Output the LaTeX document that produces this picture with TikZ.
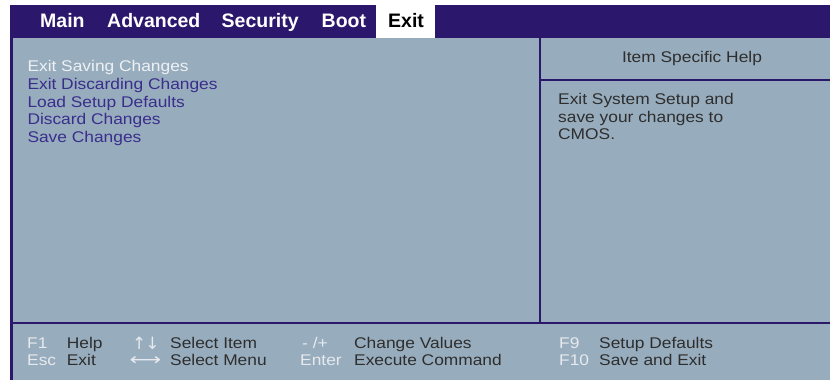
\documentclass[tikz,border=0pt]{standalone}
\usepackage{fontspec}
\setmainfont{Liberation Sans}
\newfontfamily\tabfont{Liberation Sans}
\newfontfamily\bodyfont{Liberation Sans}[FakeStretch=1.12]
\newfontfamily\arrowfont{DejaVu Sans}
\definecolor{barblue}{HTML}{2B176C}
\definecolor{panel}{HTML}{97ACBD}
\definecolor{menutext}{HTML}{3A2E8C}
\definecolor{seltext}{HTML}{EEF1F4}
\definecolor{darktext}{HTML}{2E2E2E}
\definecolor{keytext}{HTML}{E6EAEE}
\tikzset{
  tab/.style={anchor=base west, inner sep=0pt, text=white, font=\tabfont\bfseries\fontsize{19.5}{20}\selectfont},
  body/.style={anchor=base west, inner sep=0pt, font=\bodyfont\fontsize{15.5}{17.8}\selectfont},
  menuitem/.style={body, text=menutext},
  helptext/.style={body, text=darktext},
  keyname/.style={body, text=keytext},
  divider/.style={draw=barblue, line width=2.6pt}
}
\begin{document}
\begin{tikzpicture}[x=1pt,y=-1pt]
\useasboundingbox (0,0) rectangle (830,380);
\fill[white] (0,0) rectangle (830,380);
% panels
\fill[panel] (10,38) rectangle (830,380);
\fill[barblue] (10,4.5) rectangle (830,38);
\fill[white] (376,5) rectangle (435,38);
\draw[divider] (11.3,38) -- (11.3,380);
\draw[divider] (10,323) -- (830,323);
\draw[divider] (540,38) -- (540,323);
\draw[divider] (540,80) -- (830,80);
% tabs
\node[tab] (tmain) at (40,27.3) {Main};
\node[tab] (tadv) at (107,27.3) {Advanced};
\node[tab] (tsec) at (221.5,27.3) {Security};
\node[tab] (tboot) at (321.5,27.3) {Boot};
\node[tab, text=black] (texit) at (388,27.3) {Exit};
% menu items
\node[menuitem, text=seltext] (m1) at (27.3,71.5) {Exit Saving Changes};
\node[menuitem] (m2) at (27.3,89.2) {Exit Discarding Changes};
\node[menuitem] (m3) at (27.3,107) {Load Setup Defaults};
\node[menuitem] (m4) at (27.3,124.7) {Discard Changes};
\node[menuitem] (m5) at (27.3,142.5) {Save Changes};
% help
\node[helptext, anchor=base] (hh) at (692,62) {Item Specific Help};
\node[helptext] (h1) at (558,104.5) {Exit System Setup and};
\node[helptext] (h2) at (558,122.2) {save your changes to};
\node[helptext] (h3) at (558,139.8) {CMOS.};
% footer
\node[keyname] (kf1) at (27,348.5) {F1};
\node[helptext] (df1) at (66.7,348.5) {Help};
\node[keyname] (kesc) at (27,365.8) {Esc};
\node[helptext] (desc) at (66.7,365.8) {Exit};
\node[keyname] (kud) at (132,349) {\arrowfont\fontsize{17}{17}\selectfont ↑\kern-1pt↓};
\node[helptext] (dud) at (170,348.5) {Select Item};
\node[keyname, anchor=base] (klr) at (145.5,365.8) {\scalebox{1.3}[1]{\arrowfont\fontsize{17}{17}\selectfont ⟷}};
\node[helptext] (dlr) at (170,365.8) {Select Menu};
\node[keyname] (kpm) at (302,348.5) {- /+};
\node[helptext] (dpm) at (354,348.5) {Change Values};
\node[keyname] (kent) at (300,365.8) {Enter};
\node[helptext] (dent) at (354,365.8) {Execute Command};
\node[keyname] (kf9) at (559,348.5) {F9};
\node[helptext] (df9) at (599,348.5) {Setup Defaults};
\node[keyname] (kf10) at (559,365.8) {F10};
\node[helptext] (df10) at (599,365.8) {Save and Exit};
\end{tikzpicture}
\end{document}
